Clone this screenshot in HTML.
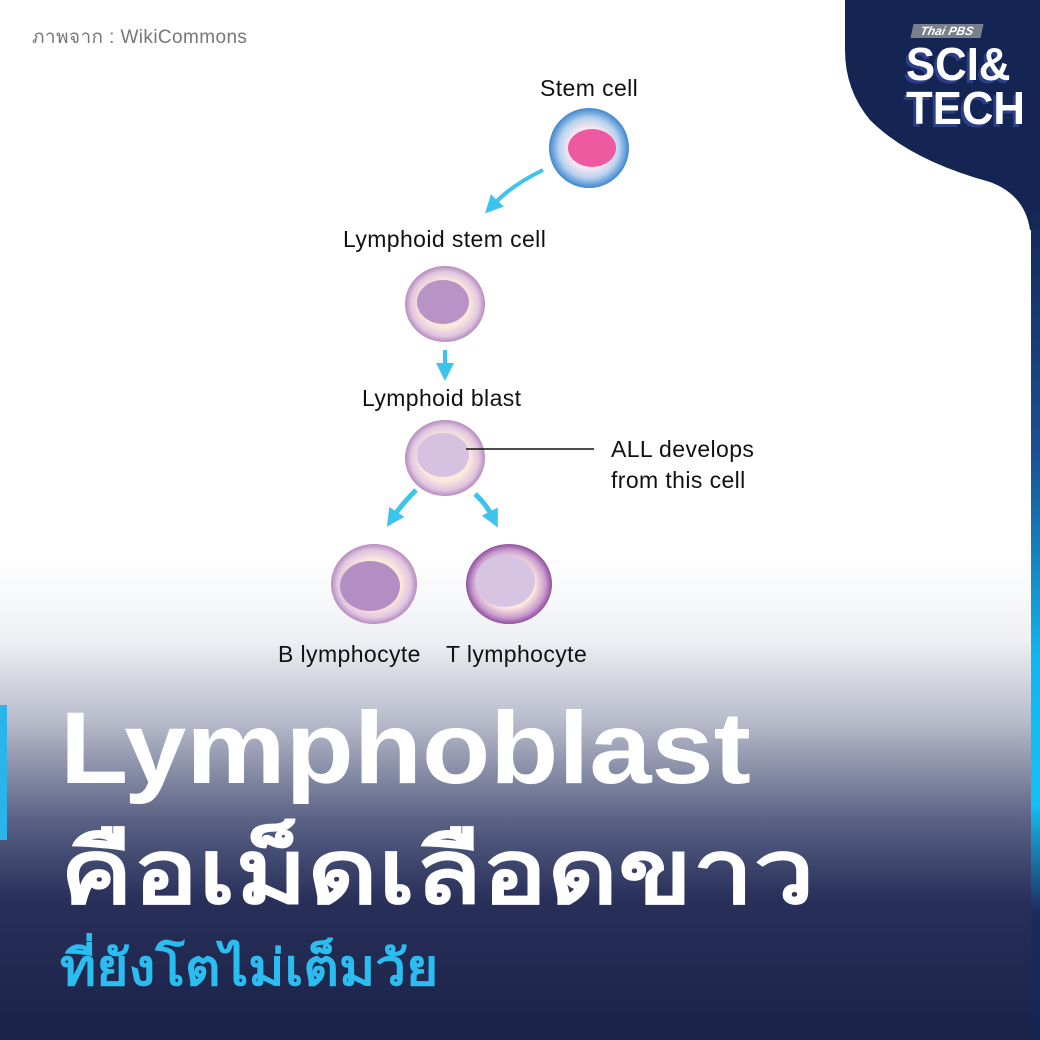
<!DOCTYPE html>
<html><head><meta charset="utf-8"><style>
html,body{margin:0;padding:0}
body{width:1040px;height:1040px;position:relative;overflow:hidden;font-family:"Liberation Sans",sans-serif;
background:linear-gradient(to bottom,#fff 0px,#fff 560px,#eef0f4 640px,#b9bccb 720px,#5a6185 820px,#28305a 900px,#1a2248 1040px);}
.t{position:absolute;color:#111;font-size:23px;letter-spacing:0.4px;white-space:nowrap}
</style></head><body>
<svg width="1040" height="1040" style="position:absolute;left:0;top:0">
<defs>
<radialGradient id="stem" cx="50%" cy="50%" r="50%">
<stop offset="0.5" stop-color="#fbe8f0"/><stop offset="0.75" stop-color="#b7d3ef"/><stop offset="1" stop-color="#3f86cf"/></radialGradient>
<radialGradient id="lym" cx="50%" cy="50%" r="50%">
<stop offset="0.6" stop-color="#fde9dc"/><stop offset="0.85" stop-color="#e0c6e0"/><stop offset="1" stop-color="#b78ac0"/></radialGradient>
<radialGradient id="tl" cx="50%" cy="50%" r="50%">
<stop offset="0.6" stop-color="#fde9dc"/><stop offset="0.85" stop-color="#c99bcf"/><stop offset="1" stop-color="#8f4f9c"/></radialGradient>
<linearGradient id="rs" x1="0" y1="0" x2="0" y2="1">
<stop offset="0" stop-color="#152553"/><stop offset="0.3" stop-color="#1b4f93"/><stop offset="0.55" stop-color="#0fb8f0"/><stop offset="0.72" stop-color="#13c0f5"/><stop offset="0.85" stop-color="#1d2a5c"/><stop offset="1" stop-color="#152553"/></linearGradient>
<marker id="ar" markerUnits="userSpaceOnUse" markerWidth="18" markerHeight="18" refX="5" refY="9" orient="auto"><path d="M0,0 L18,9 L0,18 Z" fill="#3cc3ee"/></marker>
</defs>
<path d="M845,0 L1040,0 L1040,230 L1030,230 Q1025,195 990,182 Q910,160 870,120 Q845,90 845,50 Z" fill="#152553"/>
<rect x="1031" y="200" width="9" height="840" fill="url(#rs)"/>
<rect x="0" y="705" width="7" height="135" fill="#2ab4ea"/>
<circle cx="589" cy="148" r="40" fill="url(#stem)"/>
<ellipse cx="592" cy="148" rx="24" ry="19" fill="#ee5aa0"/>
<path d="M543,170 Q512,185 494,204" stroke="#3cc3ee" stroke-width="4" fill="none" marker-end="url(#ar)"/>
<ellipse cx="445" cy="304" rx="40" ry="38" fill="url(#lym)"/>
<ellipse cx="443" cy="302" rx="26" ry="22" fill="#b993c6"/>
<path d="M445,350 L445,368" stroke="#3cc3ee" stroke-width="4" marker-end="url(#ar)"/>
<ellipse cx="445" cy="458" rx="40" ry="38" fill="url(#lym)"/>
<ellipse cx="443" cy="455" rx="26" ry="22" fill="#d7c1e0"/>
<line x1="466" y1="449" x2="594" y2="449" stroke="#111" stroke-width="1.5"/>
<path d="M416,490 Q402,504 394,516" stroke="#3cc3ee" stroke-width="5" fill="none" marker-end="url(#ar)"/>
<path d="M475,494 Q486,504 492,516" stroke="#3cc3ee" stroke-width="5" fill="none" marker-end="url(#ar)"/>
<ellipse cx="374" cy="584" rx="43" ry="40" fill="url(#lym)"/>
<ellipse cx="370" cy="586" rx="30" ry="25" fill="#b48dc2"/>
<ellipse cx="509" cy="584" rx="43" ry="40" fill="url(#tl)"/>
<ellipse cx="505" cy="581" rx="30" ry="26" fill="#d7c3e2"/>
</svg>
<div class="t" style="left:32px;top:22px;font-size:19px;color:#777">ภาพจาก : WikiCommons</div>
<div style="position:absolute;left:912px;top:24px;width:70px;height:14px;background:#7a7f8c;color:#fff;font:italic bold 12px/14px 'Liberation Sans',sans-serif;text-align:center;transform:skewX(-12deg)">Thai PBS</div>
<div style="position:absolute;left:906px;top:42px;color:#fff;font:bold 46px/44px 'Liberation Sans',sans-serif;text-shadow:-3px 3px 0 #2a3e8a;transform:scaleX(0.95);transform-origin:left">SCI&amp;<br>TECH</div>
<div class="t" style="left:540px;top:75px">Stem cell</div>
<div class="t" style="left:343px;top:226px">Lymphoid stem cell</div>
<div class="t" style="left:362px;top:385px">Lymphoid blast</div>
<div class="t" style="left:611px;top:434px;line-height:31px">ALL develops<br>from this cell</div>
<div class="t" style="left:278px;top:641px">B lymphocyte</div>
<div class="t" style="left:446px;top:641px">T lymphocyte</div>
<div style="position:absolute;left:60px;top:688px;color:#fff;font:bold 102px/120px 'Liberation Sans',sans-serif;transform:scaleX(1.095);transform-origin:left">Lymphoblast</div>
<div style="position:absolute;left:60px;top:818px;color:#fff;font:bold 90px/110px 'Liberation Sans',sans-serif;transform:scaleX(1.21);transform-origin:left">คือเม็ดเลือดขาว</div>
<div style="position:absolute;left:60px;top:933px;color:#2bbdf0;font:bold 50px/70px 'Liberation Sans',sans-serif;transform:scaleX(1.1);transform-origin:left">ที่ยังโตไม่เต็มวัย</div>
</body></html>
